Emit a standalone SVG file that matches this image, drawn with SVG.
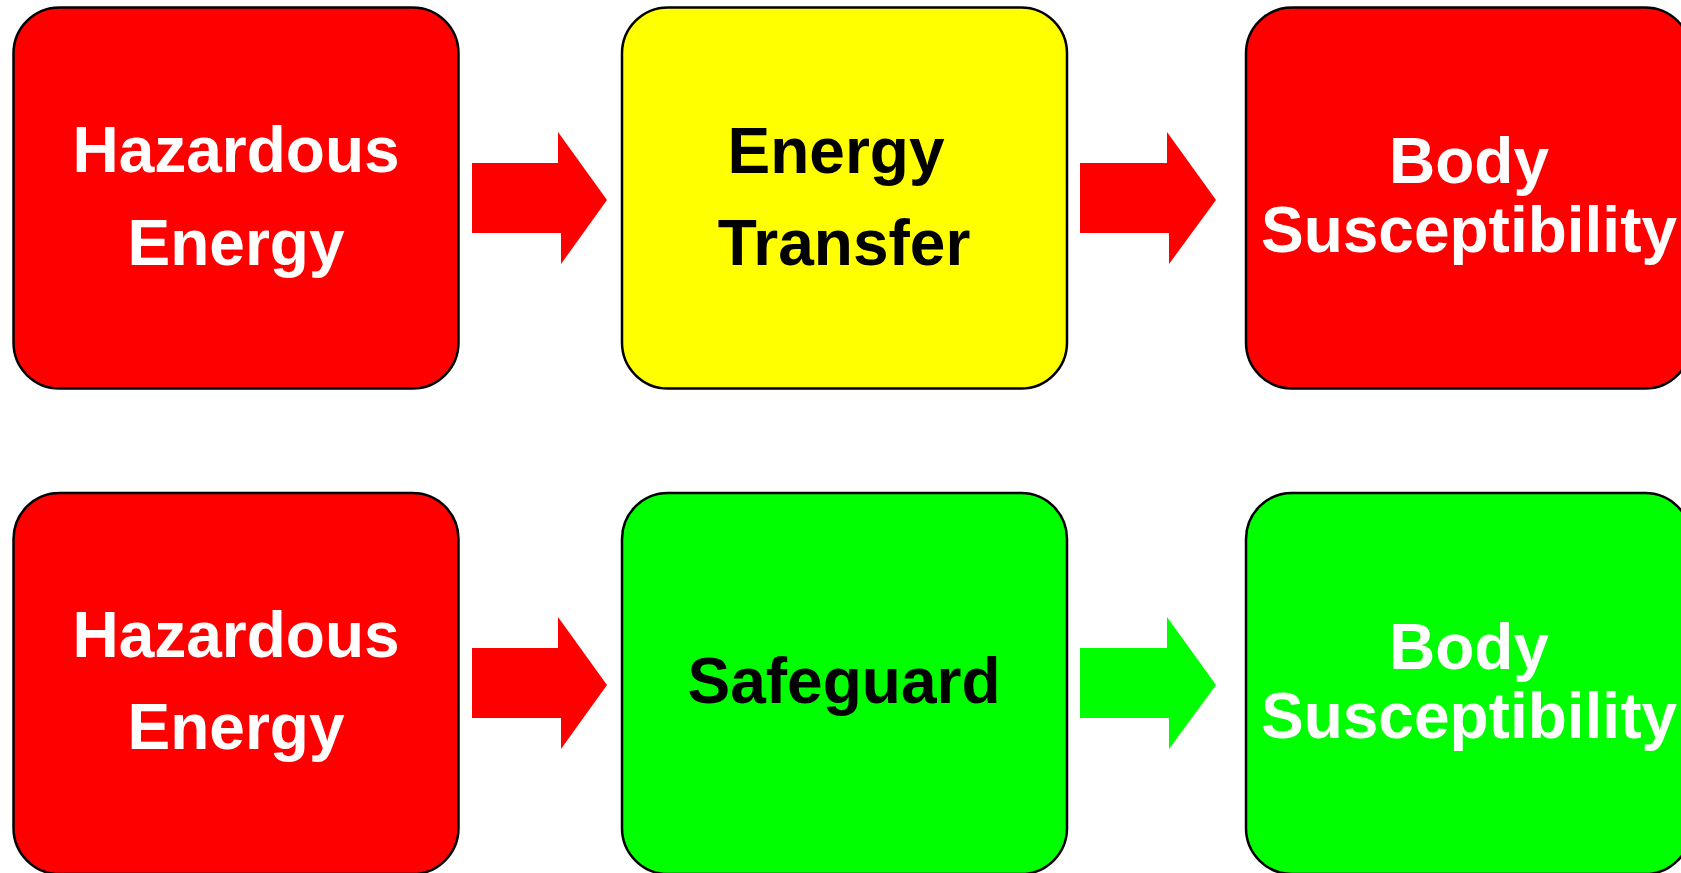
<svg xmlns="http://www.w3.org/2000/svg" width="1681" height="873" viewBox="0 0 1681 873">
<style>
.box{stroke:#000;stroke-width:2.5}
.red{fill:#ff0000}
.yel{fill:#ffff00}
.grn{fill:#00ff00}
text{font-family:"Liberation Sans",Arial,sans-serif;font-weight:bold;font-size:64px;text-anchor:middle}
.w{fill:#fff}
.k{fill:#000}
</style>
<rect width="1681" height="873" fill="#fff"/>
<g id="connectors">
<polygon class="red" points="472,163 558,163 558,132 607,200 561,264 561,233 472,233"/>
<polygon class="red" points="1080,163 1167,163 1167,132 1216,200 1169,264 1169,233 1080,233"/>
<polygon class="red" points="472,648 558,648 558,617 607,685 561,749 561,718 472,718"/>
<polygon class="grn" points="1080,648 1167,648 1167,617 1216,685 1169,749 1169,718 1080,718"/>
</g>
<g id="n1">
<rect class="box red" x="13.5" y="7.5" width="445" height="381" rx="46"/>
<text class="w" x="236" y="172">Hazardous</text>
<text class="w" x="236" y="265">Energy</text>
</g>
<g id="n2">
<rect class="box yel" x="622" y="7.5" width="445" height="381" rx="46"/>
<text class="k" x="836" y="172.5">Energy</text>
<text class="k" x="844" y="265">Transfer</text>
</g>
<g id="n3">
<rect class="box red" x="1246" y="7.5" width="445" height="381" rx="46"/>
<text class="w" x="1469" y="183">Body</text>
<text class="w" x="1469" y="252">Susceptibility</text>
</g>
<g id="n4">
<rect class="box red" x="13.5" y="493" width="445" height="381" rx="46"/>
<text class="w" x="236" y="657">Hazardous</text>
<text class="w" x="236" y="749">Energy</text>
</g>
<g id="n5">
<rect class="box grn" x="622" y="493" width="445" height="381" rx="46"/>
<text class="k" x="844" y="703">Safeguard</text>
</g>
<g id="n6">
<rect class="box grn" x="1246" y="493" width="445" height="381" rx="46"/>
<text class="w" x="1469" y="669">Body</text>
<text class="w" x="1469" y="738">Susceptibility</text>
</g>
</svg>
